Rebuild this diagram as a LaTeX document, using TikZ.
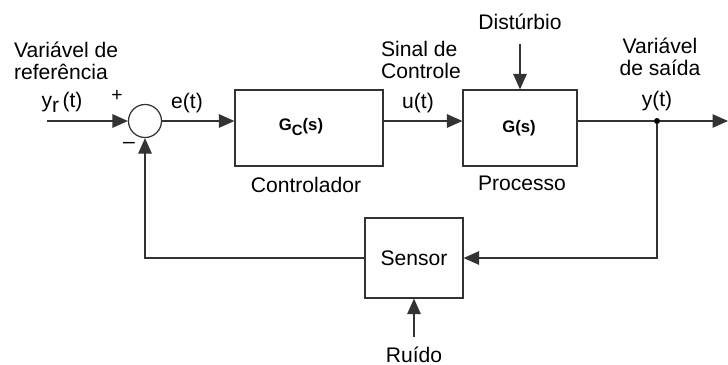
\documentclass[tikz,border=0pt]{standalone}
\usepackage{fontspec}
\setmainfont{Liberation Sans}
\usetikzlibrary{arrows.meta,positioning}

\begin{document}
\begin{tikzpicture}[x=0.02cm,y=-0.02cm]
\tikzset{
  blocknode/.style={rectangle,draw=black!80,line width=0.7pt,inner sep=0pt},
  sumnode/.style={circle,draw=black!80,line width=0.7pt,minimum size=6.6mm,inner sep=0pt},
  labeltext/.style={inner sep=1pt,font=\fontsize{12}{12.6}\selectfont},
  blocktext/.style={inner sep=1pt,font=\fontsize{9.5}{11}\selectfont\bfseries},
  sigline/.style={draw=black!80,line width=0.7pt},
  signal/.style={sigline,-{Triangle[length=3.1mm,width=2.7mm]}}
}
\useasboundingbox (0,0) rectangle (728,365);
% blocks
\node[sumnode] (n_sum) at (145,121) {};
\node[blocknode,minimum width=2.96cm,minimum height=1.52cm] (n_ctrl) at (309,128) {};
\node[blocknode,minimum width=2.28cm,minimum height=1.52cm] (n_proc) at (520,128) {};
\node[blocknode,minimum width=1.96cm,minimum height=1.6cm,labeltext] (n_sens) at (414,258) {Sensor};
\node[circle,fill=black,inner sep=0pt,minimum size=1.2mm] (n_branch) at (657,121) {};
\coordinate (n_ref) at (47,121);
\coordinate (n_out) at (728,121);
\coordinate (n_dist) at (520,44);
\coordinate (n_noise) at (414,337);
% texts
\node[labeltext,anchor=west,align=left] (t_ref) at (12,61) {Variável de\\referência};
\node[labeltext] (t_yr) at (62,102) {y\raisebox{-0.45ex}{r}\,(t)};
\node[labeltext,font=\fontsize{11}{12}\selectfont\addfontfeature{}] (t_plus) at (117,96) {+};
\node[labeltext] (t_minus) at (129,145) {--};
\node[labeltext] (t_e) at (187,103) {e(t)};
\node[blocktext] (t_gc) at (301,127) {G\raisebox{-0.5ex}{\fontsize{8.5}{9}\selectfont C}(s)};
\node[labeltext] (t_ctrl) at (306,185) {Controlador};
\node[labeltext,anchor=west,align=left] (t_sinal) at (379,60) {Sinal de\\Controle};
\node[labeltext] (t_u) at (418,103) {u(t)};
\node[labeltext] (t_dist) at (520,22) {Distúrbio};
\node[blocktext] (t_g) at (519,128) {G(s)};
\node[labeltext] (t_proc) at (522,183) {Processo};
\node[labeltext,align=center] (t_saida) at (660,57) {Variável\\de saída};
\node[labeltext] (t_y) at (657,101) {y(t)};
\node[labeltext] (t_noise) at (414,355) {Ruído};
% connectors
\draw[signal] (n_ref) -- (n_sum);
\draw[signal] (n_sum) -- (n_sum -| n_ctrl.west);
\draw[signal] (n_ctrl.east |- n_sum) -- (n_proc.west |- n_sum);
\draw[sigline] (n_proc.east |- n_sum) -- (n_branch);
\draw[signal] (n_branch) -- (n_out);
\draw[signal] (n_branch) |- (n_sens);
\draw[signal] (n_sens) -| (n_sum);
\draw[signal] (n_dist) -- (n_proc);
\draw[signal] (n_noise) -- (n_sens);
\end{tikzpicture}
\end{document}
